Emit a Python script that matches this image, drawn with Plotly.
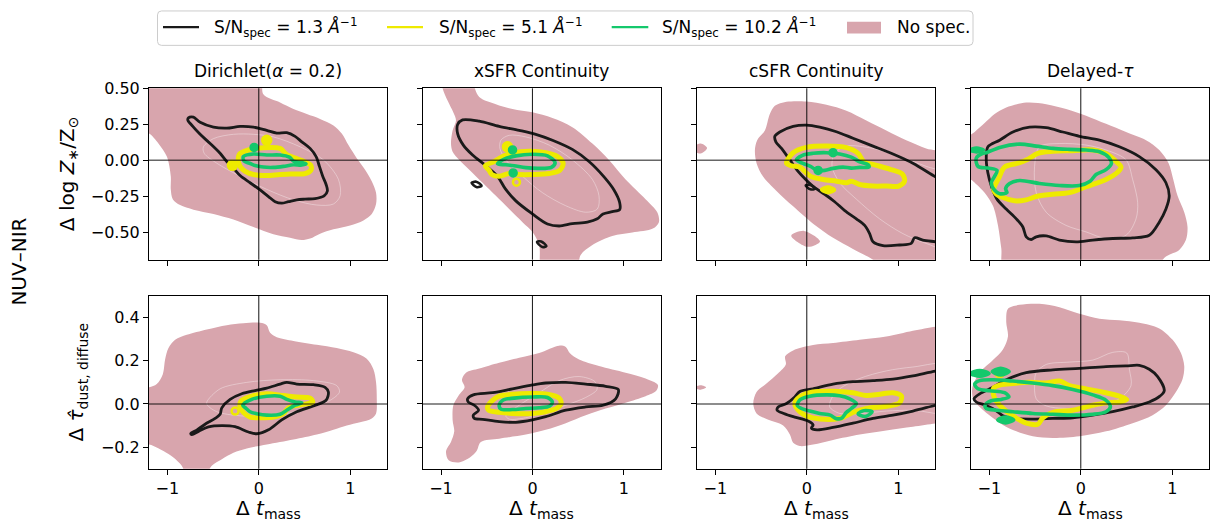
import plotly.graph_objects as go

W, H = 1211, 527

# ---------------- panel geometry (pixels) ----------------
COL_LEFT = [149.0, 422.7, 697.0, 971.0]
COL_WIDTH = 238.3
ROW_TOP = [80.7, 292.0]
ROW_BOTTOM = [255.0, 467.7]

X_RANGE = [-1.2, 1.405]
Y_RANGES = [[-0.692, 0.5], [-0.3, 0.5]]

# ---------------- labels / ticks ----------------
COLUMN_TITLES = ["Dirichlet(<i>α</i> = 0.2)", "xSFR Continuity", "cSFR Continuity", "Delayed-<i>τ</i>"]
ROW_YLABELS = ["Δ log <i>Z</i><sub>∗</sub>/Z<sub>⊙</sub>", "Δ <i>τ̂</i><sub>dust, diffuse</sub>"]
XLABEL = "Δ <i>t</i><sub>mass</sub>"
SIDE_LABEL = "NUV–NIR"

X_TICKS = [-1, 0, 1]
X_TICKTEXT = ["−1", "0", "1"]
Y_TICKS = [[0.5, 0.25, 0.0, -0.25, -0.5], [0.4, 0.2, 0.0, -0.2]]
Y_TICKTEXT = [["0.50", "0.25", "0.00", "−0.25", "−0.50"], ["0.4", "0.2", "0.0", "−0.2"]]

LEGEND_LABELS = ["S/N<sub>spec</sub> = 1.3 <i>Å</i><sup>−1</sup>",
                 "S/N<sub>spec</sub> = 5.1 <i>Å</i><sup>−1</sup>",
                 "S/N<sub>spec</sub> = 10.2 <i>Å</i><sup>−1</sup>",
                 "No spec."]

PINK = "#d8a5ad"
BLACK = "#1a1a1a"
YELLOW = "#eeea00"
GREEN = "#14c86c"
FAINT = "rgba(255,255,255,0.45)"

# =====================================================================
# Contour outlines, (Δt_mass, Δparam) vertices
# =====================================================================

# ---- row 1: Δ log Z ----
Z_DIR_PINK = [(-1.3, 0.65), (0.015, 0.60), (0.05, 0.458), (0.233, 0.401), (0.379, 0.356), (0.525, 0.321),
              (0.670, 0.287), (0.816, 0.242), (0.907, 0.185), (0.98, 0.105), (1.071, 0.014), (1.162, -0.066),
              (1.235, -0.146), (1.282, -0.226), (1.282, -0.305), (1.235, -0.374), (1.144, -0.419),
              (0.998, -0.454), (0.816, -0.481), (0.670, -0.511), (0.561, -0.545), (0.470, -0.556),
              (0.342, -0.540), (0.160, -0.515), (-0.058, -0.465), (-0.277, -0.413), (-0.495, -0.374),
              (-0.714, -0.344), (-0.860, -0.312), (-0.940, -0.271), (-0.962, -0.203), (-0.962, -0.112),
              (-1.005, 0.025), (-1.097, 0.116), (-1.199, 0.185), (-1.3, 0.2)]
Z_DIR_FAINT = [(-0.605, 0.093), (-0.495, 0.150), (-0.277, 0.180), (-0.058, 0.180), (0.160, 0.162),
               (0.452, 0.093), (0.707, 0.002), (0.871, -0.134), (0.889, -0.248), (0.816, -0.305),
               (0.634, -0.312), (0.379, -0.276), (0.087, -0.203), (-0.204, -0.112), (-0.459, -0.021),
               (-0.597, 0.048)]
Z_DIR_SN13 = [(-0.769, 0.294), (-0.714, 0.299), (-0.641, 0.264), (-0.495, 0.230), (-0.350, 0.223),
              (-0.204, 0.235), (-0.058, 0.230), (0.087, 0.207), (0.197, 0.189), (0.306, 0.191),
              (0.397, 0.166), (0.470, 0.128), (0.561, 0.082), (0.627, 0.025), (0.663, -0.043),
              (0.699, -0.112), (0.736, -0.169), (0.750, -0.214), (0.714, -0.248), (0.616, -0.267),
              (0.506, -0.271), (0.415, -0.276), (0.324, -0.289), (0.251, -0.299), (0.179, -0.289),
              (0.106, -0.253), (0.015, -0.207), (-0.095, -0.157), (-0.204, -0.107), (-0.277, -0.055),
              (-0.350, -0.009), (-0.423, 0.048), (-0.532, 0.116), (-0.641, 0.180), (-0.721, 0.235),
              (-0.776, 0.280)]
Z_DIR_SN51 = [(-0.211, 0.043), (-0.113, 0.071), (0.051, 0.087), (0.233, 0.082), (0.299, 0.043),
              (0.397, 0.014), (0.495, -0.009), (0.568, -0.036), (0.568, -0.071), (0.506, -0.093),
              (0.379, -0.096), (0.233, -0.100), (0.087, -0.107), (-0.058, -0.100), (-0.149, -0.078),
              (-0.204, -0.043), (-0.226, 0.002)]
Z_DIR_SN51_DOTS = [(0.087, 0.139), (-0.288, -0.036)]
Z_DIR_SN102 = [(-0.168, 0.025), (-0.058, 0.043), (0.087, 0.036), (0.233, 0.036), (0.335, 0.021),
               (0.386, -0.009), (0.470, -0.016), (0.517, -0.025), (0.470, -0.034), (0.379, -0.032),
               (0.270, -0.043), (0.160, -0.050), (0.051, -0.048), (-0.029, -0.039), (-0.102, -0.021),
               (-0.160, -0.007)]
Z_DIR_SN102_DOTS = [(-0.051, 0.089)]

Z_XSFR_PINK = [(-1.0, 0.60), (-0.709, 0.60), (-0.582, 0.440), (-0.400, 0.390), (-0.218, 0.356), (0.0, 0.333),
               (0.218, 0.294), (0.436, 0.230), (0.655, 0.116), (0.836, 0.002), (1.018, -0.134),
               (1.236, -0.271), (1.364, -0.362), (1.382, -0.431), (1.316, -0.476), (1.091, -0.504),
               (0.873, -0.527), (0.655, -0.590), (0.527, -0.659), (0.473, -0.78), (0.109, -0.78),
               (0.073, -0.590), (0.0, -0.499), (-0.109, -0.431), (-0.255, -0.340), (-0.400, -0.248),
               (-0.545, -0.157), (-0.691, -0.066), (-0.800, 0.002), (-0.873, 0.059), (-0.891, 0.116),
               (-0.873, 0.207), (-0.836, 0.276), (-0.866, 0.333), (-0.927, 0.413), (-0.982, 0.499)]
Z_XSFR_FAINT = [(-0.345, 0.139), (-0.255, 0.173), (-0.073, 0.162), (0.182, 0.105), (0.436, 0.002),
                (0.655, -0.134), (0.727, -0.248), (0.709, -0.340), (0.582, -0.362), (0.364, -0.317),
                (0.109, -0.226), (-0.109, -0.112), (-0.291, 0.002), (-0.356, 0.082)]
Z_XSFR_SN13 = [(-0.818, 0.248), (-0.764, 0.280), (-0.582, 0.271), (-0.364, 0.235), (-0.145, 0.207),
               (0.036, 0.180), (0.218, 0.139), (0.436, 0.075), (0.618, -0.009), (0.782, -0.116),
               (0.891, -0.207), (0.953, -0.294), (0.953, -0.344), (0.873, -0.358), (0.771, -0.374),
               (0.709, -0.408), (0.600, -0.431), (0.436, -0.442), (0.291, -0.458), (0.164, -0.444),
               (0.0, -0.374), (-0.182, -0.283), (-0.298, -0.198), (-0.382, -0.112), (-0.509, -0.039),
               (-0.655, 0.036), (-0.756, 0.105), (-0.818, 0.185)]
Z_XSFR_SN13_ISLANDS = [[(-0.666, -0.158), (-0.615, -0.150), (-0.556, -0.178), (-0.607, -0.188)],
                       [(0.050, -0.569), (0.095, -0.565), (0.152, -0.598), (0.108, -0.604)]]
Z_XSFR_SN51 = [(-0.516, -0.039), (-0.418, -0.009), (-0.327, 0.025), (-0.218, 0.048), (-0.036, 0.062),
               (0.145, 0.052), (0.273, 0.025), (0.335, -0.021), (0.298, -0.071), (0.182, -0.093),
               (0.0, -0.100), (-0.145, -0.100), (-0.255, -0.093), (-0.364, -0.112), (-0.444, -0.100),
               (-0.473, -0.071)]
Z_XSFR_SN51_DOTS = [(-0.273, 0.093)]
Z_XSFR_SN51_RINGS = [(-0.175, -0.153)]
Z_XSFR_SN102 = [(-0.382, -0.025), (-0.309, 0.007), (-0.182, 0.030), (0.0, 0.041), (0.164, 0.030),
                (0.247, -0.016), (0.211, -0.048), (0.073, -0.057), (-0.073, -0.052), (-0.200, -0.039),
                (-0.291, -0.032)]
Z_XSFR_SN102_DOTS = [(-0.218, 0.071), (-0.211, -0.089)]

Z_CSFR_PINK = [(-0.404, 0.321), (-0.349, 0.378), (-0.222, 0.406), (-0.004, 0.408), (0.215, 0.385),
               (0.433, 0.344), (0.651, 0.276), (0.869, 0.207), (1.087, 0.139), (1.305, 0.082),
               (1.487, 0.043), (1.487, -0.818), (0.942, -0.818), (0.724, -0.693), (0.505, -0.618),
               (0.287, -0.540), (0.069, -0.442), (-0.149, -0.321), (-0.331, -0.214), (-0.476, -0.116),
               (-0.549, -0.021), (-0.567, 0.071), (-0.542, 0.139), (-0.458, 0.207)]
Z_CSFR_PINK_ISLANDS = [[(-1.26, 0.080), (-1.16, 0.116), (-1.09, 0.085), (-1.16, 0.046)],
                       [(-0.170, -0.525), (-0.030, -0.492), (0.145, -0.565), (0.010, -0.603)]]
Z_CSFR_FAINT = [(0.433, 0.098), (0.724, 0.082), (1.015, 0.025), (1.305, -0.043), (1.669, -0.134),
                (1.669, -0.636), (1.305, -0.579), (1.051, -0.511), (0.796, -0.408), (0.542, -0.271),
                (0.360, -0.157), (0.276, -0.043), (0.305, 0.048)]
Z_CSFR_SN13 = [(-0.349, 0.166), (-0.295, 0.196), (-0.149, 0.235), (-0.004, 0.244), (0.142, 0.230),
               (0.324, 0.198), (0.505, 0.153), (0.724, 0.098), (0.942, 0.043), (1.160, -0.021),
               (1.407, -0.116), (1.524, -0.157), (1.524, -0.579), (1.407, -0.568), (1.269, -0.556),
               (1.178, -0.540), (1.142, -0.579), (1.015, -0.590), (0.833, -0.595), (0.724, -0.568),
               (0.687, -0.511), (0.633, -0.454), (0.542, -0.408), (0.415, -0.351), (0.305, -0.289),
               (0.196, -0.237), (0.087, -0.191), (-0.004, -0.139), (-0.095, -0.078), (-0.185, 0.002),
               (-0.276, 0.082), (-0.338, 0.128)]
Z_CSFR_SN13_ISLANDS = [[(-0.012, -0.175), (0.040, -0.172), (0.092, -0.198), (0.040, -0.203)]]
Z_CSFR_SN51 = [(-0.222, -0.021), (-0.149, 0.052), (-0.004, 0.089), (0.215, 0.098), (0.433, 0.087),
               (0.560, 0.048), (0.622, -0.009), (0.742, -0.032), (0.905, -0.062), (1.044, -0.096),
               (1.069, -0.146), (1.007, -0.180), (0.869, -0.180), (0.724, -0.180), (0.578, -0.169),
               (0.487, -0.146), (0.433, -0.157), (0.324, -0.146), (0.178, -0.134), (0.051, -0.116),
               (-0.022, -0.078), (-0.076, -0.048), (-0.167, -0.039)]
Z_CSFR_SN51_BLOBS = [[(0.165, -0.205), (0.233, -0.189), (0.300, -0.207), (0.233, -0.224)]]
Z_CSFR_SN102 = [(-0.113, 0.002), (-0.047, 0.034), (0.069, 0.048), (0.215, 0.052), (0.360, 0.043),
                (0.487, 0.021), (0.578, -0.011), (0.669, -0.030), (0.680, -0.048), (0.578, -0.050),
                (0.487, -0.055), (0.396, -0.048), (0.287, -0.057), (0.196, -0.071), (0.113, -0.071),
                (0.040, -0.043), (-0.047, -0.021)]
Z_CSFR_SN102_DOTS = [(0.287, 0.052), (0.124, -0.071)]

Z_DTAU_PINK = [(-0.815, 0.367), (-0.596, 0.401), (-0.378, 0.390), (-0.160, 0.356), (0.058, 0.310),
               (0.276, 0.253), (0.495, 0.196), (0.713, 0.139), (0.858, 0.071), (0.960, -0.021),
               (1.011, -0.134), (1.058, -0.248), (1.131, -0.362), (1.167, -0.465), (1.149, -0.556),
               (1.076, -0.625), (0.931, -0.670), (0.785, -0.76), (-0.833, -0.76), (-0.869, -0.613),
               (-0.905, -0.454), (-0.960, -0.317), (-1.051, -0.226), (-1.178, -0.146), (-1.25, -0.112),
               (-1.25, 0.150), (-1.160, 0.196), (-1.051, 0.258), (-0.942, 0.321)]
Z_DTAU_FAINT = [(-0.451, 0.093), (-0.233, 0.116), (0.058, 0.105), (0.276, 0.071), (0.495, 0.002),
                (0.567, -0.134), (0.622, -0.294), (0.604, -0.408), (0.495, -0.522), (0.276, -0.545),
                (0.058, -0.499), (-0.160, -0.454), (-0.378, -0.362), (-0.487, -0.226), (-0.505, -0.043)]
Z_DTAU_SN13 = [(-1.015, 0.093), (-0.887, 0.139), (-0.742, 0.196), (-0.560, 0.230), (-0.378, 0.226),
               (-0.196, 0.196), (-0.015, 0.166), (0.204, 0.139), (0.422, 0.093), (0.640, 0.025),
               (0.822, -0.066), (0.931, -0.157), (0.967, -0.248), (0.931, -0.340), (0.858, -0.431),
               (0.749, -0.522), (0.567, -0.540), (0.349, -0.545), (0.131, -0.556), (-0.051, -0.568),
               (-0.233, -0.556), (-0.378, -0.527), (-0.487, -0.533), (-0.542, -0.552), (-0.596, -0.533),
               (-0.633, -0.465), (-0.705, -0.408), (-0.815, -0.340), (-0.916, -0.271), (-0.978, -0.180),
               (-1.015, -0.089), (-1.033, 0.002)]
Z_DTAU_SN51 = [(-0.953, -0.203), (-0.895, -0.123), (-0.833, -0.048), (-0.687, -0.021), (-0.578, 0.007),
               (-0.469, 0.048), (-0.305, 0.062), (-0.087, 0.066), (0.131, 0.071), (0.284, 0.043),
               (0.385, -0.009), (0.440, -0.048), (0.393, -0.089), (0.276, -0.134), (0.058, -0.185),
               (-0.124, -0.226), (-0.305, -0.237), (-0.487, -0.253), (-0.596, -0.276), (-0.724, -0.283),
               (-0.851, -0.260), (-0.931, -0.230)]
Z_DTAU_SN102 = [(-1.033, 0.052), (-0.887, 0.089), (-0.669, 0.112), (-0.487, 0.098), (-0.305, 0.082),
                (-0.124, 0.075), (0.058, 0.071), (0.204, 0.059), (0.305, 0.021), (0.335, -0.021),
                (0.276, -0.066), (0.167, -0.100), (0.102, -0.146), (-0.015, -0.176), (-0.233, -0.176),
                (-0.451, -0.162), (-0.669, -0.141), (-0.778, -0.162), (-0.822, -0.198), (-0.807, -0.226),
                (-0.887, -0.233), (-0.945, -0.207), (-0.978, -0.157), (-0.942, -0.112), (-0.916, -0.071),
                (-1.015, -0.055), (-1.124, -0.043), (-1.142, 0.014), (-1.069, 0.048)]
Z_DTAU_SN102_BLOBS = [[(-1.22, 0.070), (-1.14, 0.086), (-1.06, 0.072), (-1.14, 0.056)]]

# ---- row 2: Δ τ_dust, diffuse ----
T_DIR_PINK = [(-1.3, 0.08), (-1.199, 0.077), (-1.115, 0.092), (-1.049, 0.138), (-1.024, 0.206),
              (-0.987, 0.259), (-0.914, 0.297), (-0.787, 0.320), (-0.568, 0.345), (-0.350, 0.365),
              (-0.168, 0.374), (0.015, 0.376), (0.087, 0.365), (0.124, 0.330), (0.197, 0.309),
              (0.379, 0.292), (0.634, 0.274), (0.852, 0.259), (1.035, 0.239), (1.180, 0.209),
              (1.253, 0.161), (1.282, 0.100), (1.290, 0.024), (1.282, -0.044), (1.235, -0.067),
              (1.107, -0.085), (0.962, -0.100), (0.816, -0.120), (0.634, -0.142), (0.379, -0.165),
              (0.087, -0.188), (-0.131, -0.206), (-0.277, -0.226), (-0.404, -0.256), (-0.514, -0.286),
              (-0.587, -0.33), (-0.787, -0.33), (-0.842, -0.286), (-0.933, -0.248), (-1.042, -0.218),
              (-1.151, -0.195), (-1.199, -0.188), (-1.3, -0.19)]
T_DIR_FAINT = [(-0.568, 0.009), (-0.423, 0.070), (-0.131, 0.100), (0.233, 0.112), (0.597, 0.108),
               (0.852, 0.085), (0.882, 0.055), (0.780, 0.017), (0.525, -0.021), (0.160, -0.055),
               (-0.204, -0.055), (-0.459, -0.036), (-0.561, -0.006)]
T_DIR_SN13 = [(-0.743, -0.136), (-0.678, -0.121), (-0.587, -0.094), (-0.477, -0.067), (-0.423, -0.048),
              (-0.404, -0.018), (-0.313, 0.021), (-0.186, 0.047), (-0.040, 0.062), (0.087, 0.073),
              (0.233, 0.092), (0.306, 0.100), (0.415, 0.092), (0.597, 0.089), (0.725, 0.077),
              (0.761, 0.055), (0.736, 0.017), (0.597, -0.009), (0.415, -0.036), (0.251, -0.074),
              (0.106, -0.120), (-0.022, -0.138), (-0.113, -0.130), (-0.259, -0.105), (-0.404, -0.100),
              (-0.550, -0.106), (-0.659, -0.127), (-0.732, -0.142)]
T_DIR_SN51 = [(-0.197, 0.012), (-0.077, 0.036), (0.087, 0.047), (0.270, 0.039), (0.415, 0.032),
              (0.561, 0.027), (0.590, 0.009), (0.470, -0.003), (0.324, -0.018), (0.270, -0.044),
              (0.160, -0.061), (0.051, -0.064), (-0.095, -0.061), (-0.168, -0.039), (-0.204, -0.014)]
T_DIR_SN51_RINGS = [(-0.259, -0.033)]
T_DIR_SN102 = [(-0.175, -0.006), (-0.077, 0.021), (0.087, 0.036), (0.233, 0.036), (0.306, 0.021),
               (0.397, 0.009), (0.470, 0.005), (0.397, -0.006), (0.313, -0.027), (0.233, -0.048),
               (0.087, -0.052), (-0.022, -0.045), (-0.095, -0.036), (-0.138, -0.021)]

T_XSFR_PINK = [(-0.771, 0.112), (-0.727, 0.145), (-0.582, 0.164), (-0.364, 0.191), (-0.145, 0.214),
               (0.073, 0.236), (0.291, 0.270), (0.364, 0.264), (0.407, 0.236), (0.509, 0.206),
               (0.727, 0.176), (1.018, 0.145), (1.236, 0.118), (1.371, 0.088), (1.353, 0.061),
               (1.236, 0.036), (1.018, 0.006), (0.800, -0.021), (0.582, -0.052), (0.364, -0.089),
               (0.145, -0.120), (-0.073, -0.142), (-0.364, -0.161), (-0.564, -0.176), (-0.611, -0.218),
               (-0.684, -0.248), (-0.807, -0.271), (-0.916, -0.261), (-0.945, -0.218), (-0.891, -0.176),
               (-0.855, -0.127), (-0.873, -0.074), (-0.865, -0.006), (-0.807, 0.039), (-0.742, 0.077)]
T_XSFR_FAINT = [(-0.291, -0.055), (-0.145, -0.006), (0.073, 0.052), (0.291, 0.108), (0.509, 0.127),
                (0.684, 0.103), (0.705, 0.067), (0.582, 0.030), (0.364, -0.006), (0.145, -0.036),
                (-0.073, -0.064), (-0.255, -0.070)]
T_XSFR_SN13 = [(-0.709, 0.024), (-0.647, 0.042), (-0.436, 0.052), (-0.218, 0.070), (0.0, 0.088),
               (0.145, 0.097), (0.364, 0.100), (0.582, 0.092), (0.800, 0.082), (0.938, 0.067),
               (0.909, 0.024), (0.771, -0.006), (0.582, -0.014), (0.364, -0.029), (0.145, -0.059),
               (0.0, -0.074), (-0.182, -0.085), (-0.364, -0.082), (-0.545, -0.071), (-0.636, -0.067),
               (-0.647, -0.052), (-0.589, -0.029), (-0.636, -0.006), (-0.702, 0.009)]
T_XSFR_SN51 = [(-0.491, -0.014), (-0.436, 0.017), (-0.364, 0.036), (-0.218, 0.045), (0.0, 0.048),
               (0.164, 0.045), (0.291, 0.027), (0.313, 0.002), (0.262, -0.021), (0.145, -0.036),
               (0.0, -0.044), (-0.218, -0.044), (-0.364, -0.039), (-0.480, -0.029)]
T_XSFR_SN102 = [(-0.345, -0.024), (-0.364, -0.006), (-0.320, 0.018), (-0.200, 0.027), (0.0, 0.032),
                (0.164, 0.030), (0.218, 0.009), (0.189, -0.009), (0.073, -0.018), (-0.073, -0.021),
                (-0.218, -0.026)]

T_CSFR_PINK = [(-0.585, 0.002), (-0.549, 0.055), (-0.447, 0.092), (-0.313, 0.142), (-0.229, 0.183),
               (-0.236, 0.221), (-0.149, 0.248), (0.069, 0.273), (0.287, 0.282), (0.578, 0.297),
               (0.869, 0.312), (1.160, 0.339), (1.407, 0.358), (1.560, 0.365), (1.560, -0.085),
               (1.407, -0.091), (1.160, -0.106), (0.869, -0.123), (0.578, -0.142), (0.287, -0.167),
               (0.069, -0.188), (-0.076, -0.195), (-0.149, -0.180), (-0.185, -0.142), (-0.258, -0.100),
               (-0.440, -0.070), (-0.549, -0.044)]
T_CSFR_PINK_ISLANDS = [[(-1.23, 0.076), (-1.16, 0.087), (-1.10, 0.077), (-1.16, 0.066)]]
T_CSFR_FAINT = [(0.251, -0.014), (0.269, 0.024), (0.360, 0.070), (0.578, 0.118), (0.869, 0.153),
                (1.160, 0.171), (1.560, 0.179), (1.560, -0.036), (1.160, -0.029), (0.869, -0.033),
                (0.578, -0.044), (0.360, -0.044)]
T_CSFR_SN13 = [(1.560, 0.161), (1.407, 0.152), (1.160, 0.130), (0.942, 0.115), (0.724, 0.108),
               (0.505, 0.103), (0.287, 0.092), (0.069, 0.070), (-0.076, 0.058), (-0.131, 0.032),
               (-0.222, 0.002), (-0.313, -0.014), (-0.324, -0.029), (-0.251, -0.044), (-0.131, -0.061),
               (0.015, -0.079), (0.069, -0.097), (0.051, -0.112), (0.113, -0.120), (0.287, -0.109),
               (0.505, -0.089), (0.724, -0.067), (0.942, -0.052), (1.160, -0.033), (1.407, -0.006),
               (1.560, 0.009)]
T_CSFR_SN51 = [(-0.131, 0.002), (-0.076, 0.033), (0.069, 0.055), (0.287, 0.059), (0.505, 0.052),
               (0.651, 0.039), (0.796, 0.045), (0.942, 0.052), (1.036, 0.036), (1.015, 0.006),
               (0.905, -0.009), (0.796, -0.014), (0.651, -0.021), (0.505, -0.039), (0.360, -0.067),
               (0.142, -0.070), (-0.004, -0.055), (-0.076, -0.036)]
T_CSFR_SN102 = [(-0.105, -0.006), (-0.069, 0.021), (0.033, 0.036), (0.215, 0.042), (0.360, 0.038),
                (0.469, 0.024), (0.542, 0.002), (0.487, -0.021), (0.433, -0.039), (0.378, -0.067),
                (0.316, -0.067), (0.258, -0.052), (0.142, -0.044), (0.033, -0.033), (-0.058, -0.021)]
T_CSFR_SN102_ISLANDS = [[(0.560, -0.046), (0.625, -0.031), (0.715, -0.036), (0.640, -0.058)]]

T_DTAU_PINK = [(-0.796, 0.441), (-0.669, 0.459), (-0.451, 0.464), (-0.233, 0.448), (-0.015, 0.418),
               (0.204, 0.395), (0.422, 0.388), (0.640, 0.376), (0.858, 0.350), (1.004, 0.297),
               (1.095, 0.236), (1.131, 0.176), (1.113, 0.115), (1.040, 0.055), (0.931, -0.006),
               (0.785, -0.052), (0.567, -0.089), (0.276, -0.127), (-0.015, -0.150), (-0.305, -0.158),
               (-0.524, -0.150), (-0.705, -0.127), (-0.851, -0.097), (-0.978, -0.059), (-1.087, -0.021),
               (-1.171, 0.017), (-1.185, 0.077), (-1.105, 0.145), (-0.960, 0.203), (-0.851, 0.252),
               (-0.796, 0.312), (-0.815, 0.380)]
T_DTAU_FAINT = [(-0.487, 0.145), (-0.378, 0.183), (-0.124, 0.194), (0.131, 0.203), (0.349, 0.239),
                (0.502, 0.236), (0.531, 0.161), (0.549, 0.085), (0.422, 0.024), (0.131, -0.014),
                (-0.160, -0.021), (-0.378, -0.009), (-0.487, 0.024), (-0.505, 0.100)]
T_DTAU_SN13 = [(-1.167, 0.024), (-1.105, 0.047), (-0.960, 0.077), (-0.815, 0.112), (-0.596, 0.145),
               (-0.305, 0.158), (-0.015, 0.165), (0.276, 0.173), (0.495, 0.176), (0.640, 0.179),
               (0.749, 0.161), (0.840, 0.127), (0.913, 0.062), (0.865, 0.036), (0.749, 0.009),
               (0.567, -0.014), (0.349, -0.036), (0.131, -0.052), (-0.087, -0.064), (-0.305, -0.067),
               (-0.524, -0.070), (-0.742, -0.067), (-0.851, -0.055), (-0.931, -0.029), (-1.040, -0.006),
               (-1.142, 0.009)]
T_DTAU_SN51 = [(-0.953, 0.073), (-0.880, 0.088), (-0.742, 0.095), (-0.560, 0.100), (-0.378, 0.097),
               (-0.233, 0.106), (-0.124, 0.085), (0.058, 0.070), (0.240, 0.055), (0.422, 0.036),
               (0.502, 0.021), (0.422, 0.009), (0.276, 0.005), (0.131, -0.006), (-0.087, -0.029),
               (-0.305, -0.039), (-0.415, -0.064), (-0.469, -0.094), (-0.596, -0.089), (-0.669, -0.074),
               (-0.807, -0.036), (-0.887, -0.006), (-0.942, 0.027)]
T_DTAU_SN51_DOTS = [(-0.887, 0.145)]
T_DTAU_SN102 = [(-1.160, 0.092), (-1.105, 0.108), (-0.960, 0.112), (-0.742, 0.106), (-0.524, 0.097),
                (-0.305, 0.085), (-0.087, 0.067), (0.131, 0.042), (0.276, 0.017), (0.324, -0.014),
                (0.276, -0.036), (0.131, -0.048), (-0.087, -0.052), (-0.305, -0.048), (-0.524, -0.044),
                (-0.742, -0.036), (-0.916, -0.029), (-1.033, -0.021), (-1.047, -0.006), (-0.978, 0.015),
                (-0.869, 0.021), (-0.785, 0.033), (-0.833, 0.052), (-0.996, 0.061), (-1.124, 0.070)]
T_DTAU_SN102_BLOBS = [[(-1.21, 0.141), (-1.105, 0.156), (-1.00, 0.141), (-1.105, 0.127)],
                      [(-0.97, 0.150), (-0.876, 0.167), (-0.78, 0.150), (-0.876, 0.133)],
                      [(-0.91, -0.074), (-0.822, -0.059), (-0.73, -0.074), (-0.822, -0.089)]]

# panel order: row 1 (cols 1..4), row 2 (cols 1..4)
PANELS = [
    dict(pink=Z_DIR_PINK, faint=Z_DIR_FAINT, sn13=Z_DIR_SN13, sn51=Z_DIR_SN51, sn102=Z_DIR_SN102,
         sn51_dots=Z_DIR_SN51_DOTS, sn102_dots=Z_DIR_SN102_DOTS),
    dict(pink=Z_XSFR_PINK, faint=Z_XSFR_FAINT, sn13=Z_XSFR_SN13, sn51=Z_XSFR_SN51, sn102=Z_XSFR_SN102,
         sn13_islands=Z_XSFR_SN13_ISLANDS, sn51_dots=Z_XSFR_SN51_DOTS, sn51_rings=Z_XSFR_SN51_RINGS,
         sn102_dots=Z_XSFR_SN102_DOTS),
    dict(pink=Z_CSFR_PINK, pink_islands=Z_CSFR_PINK_ISLANDS, faint=Z_CSFR_FAINT, sn13=Z_CSFR_SN13,
         sn51=Z_CSFR_SN51, sn102=Z_CSFR_SN102, sn13_islands=Z_CSFR_SN13_ISLANDS,
         sn51_blobs=Z_CSFR_SN51_BLOBS, sn102_dots=Z_CSFR_SN102_DOTS),
    dict(pink=Z_DTAU_PINK, faint=Z_DTAU_FAINT, sn13=Z_DTAU_SN13, sn51=Z_DTAU_SN51, sn102=Z_DTAU_SN102,
         sn102_blobs=Z_DTAU_SN102_BLOBS),
    dict(pink=T_DIR_PINK, faint=T_DIR_FAINT, sn13=T_DIR_SN13, sn51=T_DIR_SN51, sn102=T_DIR_SN102,
         sn51_rings=T_DIR_SN51_RINGS),
    dict(pink=T_XSFR_PINK, faint=T_XSFR_FAINT, sn13=T_XSFR_SN13, sn51=T_XSFR_SN51, sn102=T_XSFR_SN102),
    dict(pink=T_CSFR_PINK, pink_islands=T_CSFR_PINK_ISLANDS, faint=T_CSFR_FAINT, sn13=T_CSFR_SN13,
         sn51=T_CSFR_SN51, sn102=T_CSFR_SN102, sn102_islands=T_CSFR_SN102_ISLANDS),
    dict(pink=T_DTAU_PINK, faint=T_DTAU_FAINT, sn13=T_DTAU_SN13, sn51=T_DTAU_SN51, sn102=T_DTAU_SN102,
         sn51_dots=T_DTAU_SN51_DOTS, sn102_blobs=T_DTAU_SN102_BLOBS),
]

FONT = "DejaVu Sans"
TICK_SIZE = 16
LABEL_SIZE = 20
TITLE_SIZE = 17
LEGEND_SIZE = 17


def closed(points):
    xs = [p[0] for p in points] + [points[0][0]]
    ys = [p[1] for p in points] + [points[0][1]]
    return xs, ys


def px(x):
    return x / W


def py(y):
    return 1 - y / H


def ax_ids(k):
    s = "" if k == 1 else str(k)
    return "x" + s, "y" + s


fig = go.Figure()


def add_loop(k, pts, color, width, fill=None):
    xa, ya = ax_ids(k)
    xs, ys = closed(pts)
    fig.add_trace(go.Scatter(
        x=xs, y=ys, mode="lines", xaxis=xa, yaxis=ya,
        line=dict(color=color, width=width, shape="spline", smoothing=0.9),
        fill="toself" if fill else None, fillcolor=fill,
        hoverinfo="skip", showlegend=False))


def add_dots(k, pts, color, size, symbol="circle"):
    xa, ya = ax_ids(k)
    fig.add_trace(go.Scatter(
        x=[p[0] for p in pts], y=[p[1] for p in pts], mode="markers",
        xaxis=xa, yaxis=ya,
        marker=dict(color=color, size=size, symbol=symbol, line=dict(color=color, width=2.5)),
        hoverinfo="skip", showlegend=False))


for i, pan in enumerate(PANELS):
    k = i + 1
    add_loop(k, pan["pink"], PINK, 0, fill=PINK)
    for isl in pan.get("pink_islands", []):
        add_loop(k, isl, PINK, 0, fill=PINK)
    add_loop(k, pan["faint"], FAINT, 0.8)
    add_loop(k, pan["sn13"], BLACK, 2.8)
    for isl in pan.get("sn13_islands", []):
        add_loop(k, isl, BLACK, 2.6)
    add_loop(k, pan["sn51"], YELLOW, 5)
    for b in pan.get("sn51_blobs", []):
        add_loop(k, b, YELLOW, 4, fill=YELLOW)
    if pan.get("sn51_dots"):
        add_dots(k, pan["sn51_dots"], YELLOW, 9)
    if pan.get("sn51_rings"):
        add_dots(k, pan["sn51_rings"], YELLOW, 7, symbol="circle-open")
    add_loop(k, pan["sn102"], GREEN, 3.6)
    for isl in pan.get("sn102_islands", []):
        add_loop(k, isl, GREEN, 3.4)
    for b in pan.get("sn102_blobs", []):
        add_loop(k, b, GREEN, 3, fill=GREEN)
    if pan.get("sn102_dots"):
        add_dots(k, pan["sn102_dots"], GREEN, 7)

layout = dict(
    width=W, height=H, margin=dict(l=0, r=0, t=0, b=0),
    paper_bgcolor="white", plot_bgcolor="white",
    font=dict(family=FONT, size=TICK_SIZE, color="black"),
    showlegend=False,
)

shapes = []
annotations = []

for i in range(8):
    k = i + 1
    r, c = divmod(i, 4)
    xa, ya = ax_ids(k)
    xd = [px(COL_LEFT[c]), px(COL_LEFT[c] + COL_WIDTH)]
    yd = [py(ROW_BOTTOM[r]), py(ROW_TOP[r])]
    sfx = "" if k == 1 else str(k)
    layout[f"xaxis{sfx}"] = dict(
        domain=xd, anchor=ya, range=X_RANGE, tickvals=X_TICKS, ticktext=X_TICKTEXT,
        showticklabels=(r == 1), ticks="outside", ticklen=5, tickwidth=1, tickcolor="black",
        showline=True, linecolor="black", linewidth=1, mirror=True,
        showgrid=False, zeroline=False, tickfont=dict(size=TICK_SIZE, family=FONT))
    layout[f"yaxis{sfx}"] = dict(
        domain=yd, anchor=xa, range=Y_RANGES[r], tickvals=Y_TICKS[r], ticktext=Y_TICKTEXT[r],
        showticklabels=(c == 0), ticks="outside", ticklen=5, tickwidth=1, tickcolor="black",
        showline=True, linecolor="black", linewidth=1, mirror=True,
        showgrid=False, zeroline=False, tickfont=dict(size=TICK_SIZE, family=FONT))
    # reference lines at zero offset
    shapes.append(dict(type="line", xref=xa, yref=f"{ya} domain", x0=0, x1=0, y0=0, y1=1,
                       line=dict(color="rgba(0,0,0,0.85)", width=1.1), layer="above"))
    shapes.append(dict(type="line", xref=f"{xa} domain", yref=ya, x0=0, x1=1, y0=0, y1=0,
                       line=dict(color="rgba(0,0,0,0.6)", width=1.4), layer="above"))
    if r == 1:
        annotations.append(dict(text=XLABEL, x=px(COL_LEFT[c] + COL_WIDTH / 2), y=py(509),
                                xref="paper", yref="paper", showarrow=False,
                                xanchor="center", yanchor="middle", font=dict(size=LABEL_SIZE)))

for c, title in enumerate(COLUMN_TITLES):
    annotations.append(dict(text=title, x=px(COL_LEFT[c] + COL_WIDTH / 2), y=py(63),
                            xref="paper", yref="paper", showarrow=False,
                            xanchor="center", yanchor="middle", font=dict(size=TITLE_SIZE)))

annotations.append(dict(text=ROW_YLABELS[0], x=px(68), y=py(168), xref="paper", yref="paper",
                        showarrow=False, textangle=-90, xanchor="center", yanchor="middle",
                        font=dict(size=LABEL_SIZE)))
annotations.append(dict(text=ROW_YLABELS[1], x=px(77), y=py(380), xref="paper", yref="paper",
                        showarrow=False, textangle=-90, xanchor="center", yanchor="middle",
                        font=dict(size=LABEL_SIZE)))
annotations.append(dict(text=SIDE_LABEL, x=px(19), y=py(257), xref="paper", yref="paper",
                        showarrow=False, textangle=-90, xanchor="center", yanchor="middle",
                        font=dict(size=LABEL_SIZE)))

# ---- legend box ----
lx0, lx1, ly0, ly1, rad = 157.5, 973.0, 2.0, 37.0, 4.0
path = (f"M {px(lx0 + rad)} {py(ly0)} L {px(lx1 - rad)} {py(ly0)} "
        f"Q {px(lx1)} {py(ly0)} {px(lx1)} {py(ly0 + rad)} L {px(lx1)} {py(ly1 - rad)} "
        f"Q {px(lx1)} {py(ly1)} {px(lx1 - rad)} {py(ly1)} L {px(lx0 + rad)} {py(ly1)} "
        f"Q {px(lx0)} {py(ly1)} {px(lx0)} {py(ly1 - rad)} L {px(lx0)} {py(ly0 + rad)} "
        f"Q {px(lx0)} {py(ly0)} {px(lx0 + rad)} {py(ly0)} Z")
shapes.append(dict(type="path", xref="paper", yref="paper", path=path,
                   line=dict(color="#cccccc", width=1), fillcolor="white", layer="above"))

ley = 18.5
legend_line_x = [(163, 199, BLACK), (387, 423, YELLOW), (611.7, 648.3, GREEN)]
legend_text_x = [211.7, 436.7, 660.0, 895.0]
for (a, b, col) in legend_line_x:
    shapes.append(dict(type="line", xref="paper", yref="paper", x0=px(a), x1=px(b), y0=py(ley), y1=py(ley),
                       line=dict(color=col, width=2.2), layer="above"))
shapes.append(dict(type="rect", xref="paper", yref="paper", x0=px(847), x1=px(881), y0=py(25), y1=py(13),
                   line=dict(width=0), fillcolor=PINK, layer="above"))
for lab, tx in zip(LEGEND_LABELS, legend_text_x):
    annotations.append(dict(text=lab, x=px(tx), y=py(ley), xref="paper", yref="paper", showarrow=False,
                            xanchor="left", yanchor="middle", font=dict(size=LEGEND_SIZE)))

layout["shapes"] = shapes
layout["annotations"] = annotations
fig.update_layout(**layout)

fig.write_html("out.html")
